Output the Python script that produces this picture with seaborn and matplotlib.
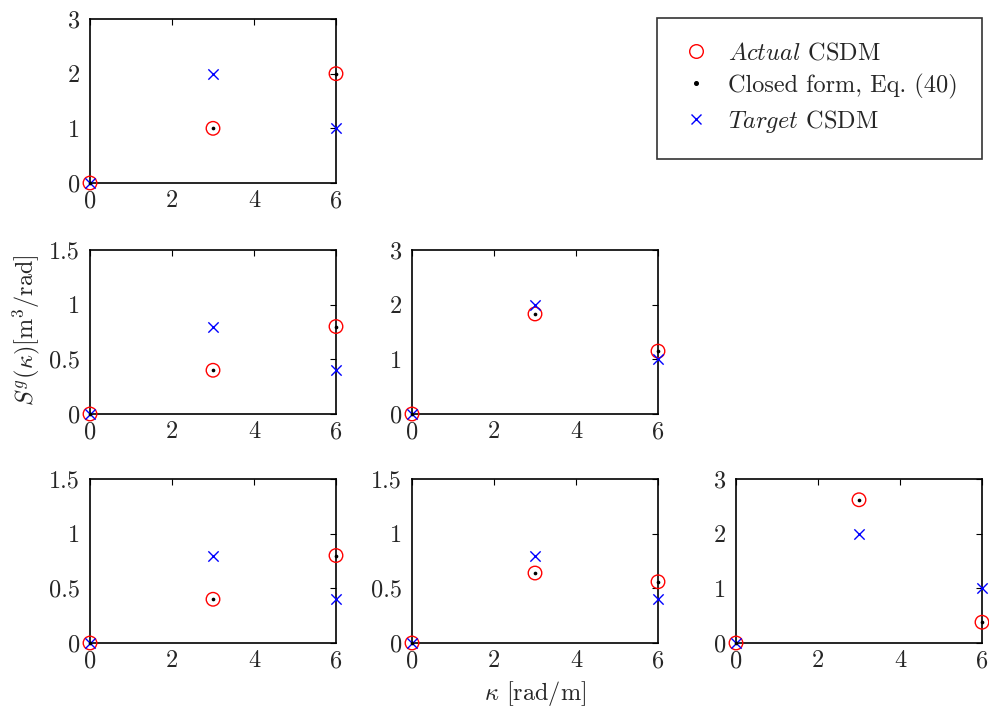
import matplotlib
matplotlib.use("Agg")
import matplotlib.pyplot as plt
import seaborn as sns
import pandas as pd
from matplotlib.lines import Line2D

sns.set_style("white")
plt.rcParams["font.family"] = ["cmr10", "DejaVu Serif"]
plt.rcParams["mathtext.fontset"] = "cm"
plt.rcParams["axes.formatter.use_mathtext"] = True
FS = 17.5
plt.rcParams["font.size"] = FS

kappa = [0, 3, 6]
panels = [(0, 0), (1, 0), (1, 1), (2, 0), (2, 1), (2, 2)]
actual = {
    (0, 0): [0, 1.0, 2.0],
    (1, 0): [0, 0.4, 0.8],
    (1, 1): [0, 1.83, 1.15],
    (2, 0): [0, 0.4, 0.8],
    (2, 1): [0, 0.64, 0.56],
    (2, 2): [0, 2.62, 0.38],
}
closed_form = {k: list(v) for k, v in actual.items()}
target = {
    (0, 0): [0, 2.0, 1.0],
    (1, 0): [0, 0.8, 0.4],
    (1, 1): [0, 2.0, 1.0],
    (2, 0): [0, 0.8, 0.4],
    (2, 1): [0, 0.8, 0.4],
    (2, 2): [0, 2.0, 1.0],
}
ymax = {(0, 0): 3, (1, 0): 1.5, (1, 1): 3, (2, 0): 1.5, (2, 1): 1.5, (2, 2): 3}
xticks = [0, 2, 4, 6]

W, H = 989, 715
fig = plt.figure(figsize=(W / 100, H / 100), dpi=100)
col_left = [90, 412, 736]
row_bottom = [183, 414, 643]
aw, ah = 246, 164

for (r, c) in panels:
    ax = fig.add_axes([col_left[c] / W, 1 - row_bottom[r] / H, aw / W, ah / H])
    df = pd.DataFrame({"k": kappa, "a": actual[(r, c)], "cf": closed_form[(r, c)], "t": target[(r, c)]})
    sns.scatterplot(data=df, x="k", y="a", ax=ax, marker="o", s=95, facecolors="none",
                    edgecolor="red", linewidth=1.0, clip_on=False, zorder=3, legend=False)
    sns.scatterplot(data=df, x="k", y="t", ax=ax, marker="x", s=55, color="blue",
                    linewidth=1.0, clip_on=False, zorder=4, legend=False)
    sns.scatterplot(data=df, x="k", y="cf", ax=ax, marker="o", s=7, color="black",
                    edgecolor="black", linewidth=0, clip_on=False, zorder=5, legend=False)
    ax.set_xlim(0, 6)
    ax.set_ylim(0, ymax[(r, c)])
    ax.set_xticks(xticks)
    if ymax[(r, c)] == 3:
        ax.set_yticks([0, 1, 2, 3])
        ax.set_yticklabels(["0", "1", "2", "3"])
    else:
        ax.set_yticks([0, 0.5, 1, 1.5])
        ax.set_yticklabels(["0", "0.5", "1", "1.5"])
    ax.set_xticklabels([str(v) for v in xticks])
    ax.set_xlabel("")
    ax.set_ylabel("")
    ax.tick_params(direction="in", top=True, right=True, length=4, width=0.8,
                   labelsize=FS, color="black")
    ax.tick_params(axis="x", pad=5)
    ax.tick_params(axis="y", pad=7)
    for sp in ax.spines.values():
        sp.set_color("black")
        sp.set_linewidth(1.2)
        sp.set_visible(True)

fig.text(26 / W, 1 - 330 / H, r"$S^g(\kappa)$[m$^3$/rad]", rotation=90, ha="center", va="center", fontsize=FS)
fig.text(535 / W, 1 - 693 / H, r"$\kappa$ [rad/m]", ha="center", va="center", fontsize=FS)

handles = [
    Line2D([], [], linestyle="none", marker="o", markersize=9.8, markerfacecolor="none",
           markeredgecolor="red", markeredgewidth=1.0),
    Line2D([], [], linestyle="none", marker="o", markersize=2.6, markerfacecolor="black",
           markeredgecolor="black"),
    Line2D([], [], linestyle="none", marker="x", markersize=7.5, color="blue", markeredgewidth=1.0),
]
labels = [r"$\mathit{Actual}$ CSDM", "Closed form, Eq. (40)", r"$\mathit{Target}$ CSDM"]
leg = fig.legend(handles, labels, loc="upper right", bbox_to_anchor=(982 / W, 1 - 18 / H),
                 frameon=True, fancybox=False, edgecolor="black", fontsize=FS,
                 borderpad=1.0, labelspacing=0.37, handlelength=1.2, handletextpad=0.7,
                 borderaxespad=0)
leg.get_frame().set_linewidth(1.2)

fig.savefig("out.png", dpi=100, facecolor="white")
